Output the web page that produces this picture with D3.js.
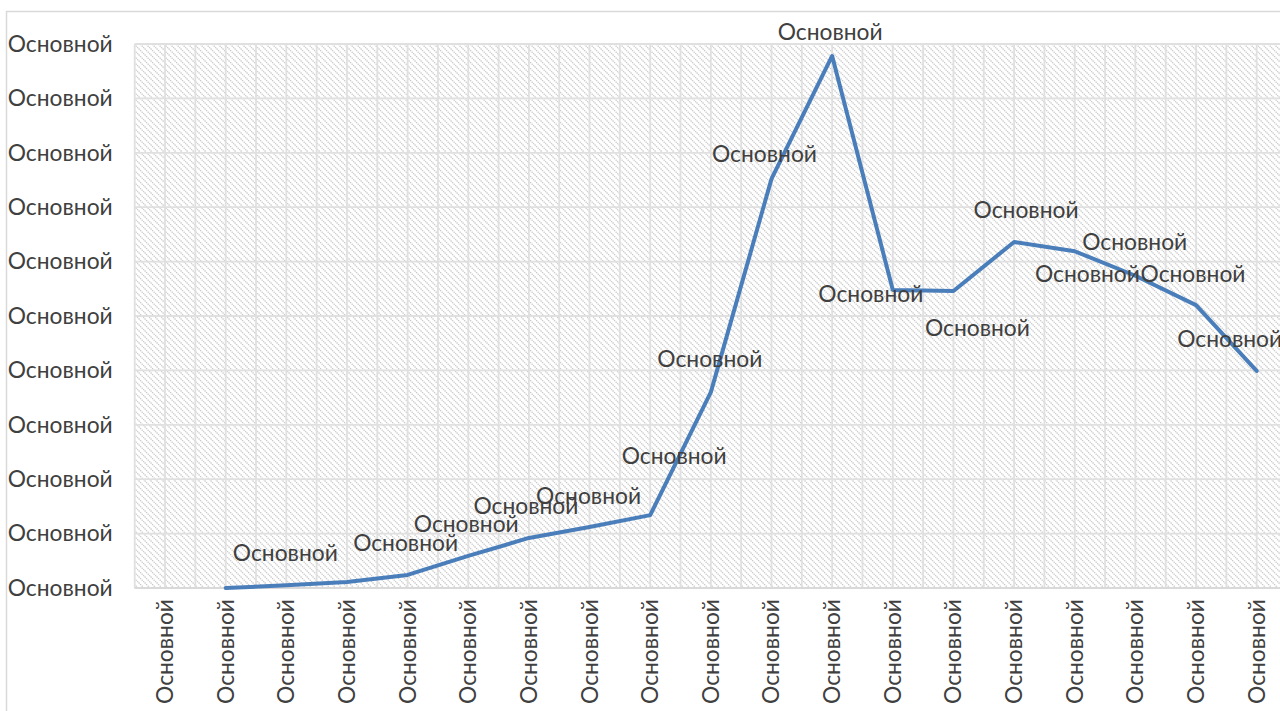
<!DOCTYPE html>
<html>
<head>
<meta charset="utf-8">
<script src="https://cdn.jsdelivr.net/npm/d3@7"></script>
<style>
  html, body { margin: 0; padding: 0; background: #fff; overflow: hidden; }
  svg { display: block; }
  text { font-family: Lato, "Open Sans", sans-serif; fill: #404040; }
</style>
</head>
<body>
<svg id="chart" width="1280" height="711"></svg>
<script>
// ---- data ----
const categories = ["Основной","Основной","Основной","Основной","Основной","Основной","Основной","Основной","Основной","Основной","Основной","Основной","Основной","Основной","Основной","Основной","Основной","Основной","Основной"];
const seriesValues = [null, 0, 0.05, 0.11, 0.24, 0.59, 0.92, 1.12, 1.34, 3.6, 7.52, 9.78, 5.48, 5.46, 6.36, 6.19, 5.74, 5.2, 3.99];
const yTickValues = [0,1,2,3,4,5,6,7,8,9,10];
const yTickLabels = ["Основной","Основной","Основной","Основной","Основной","Основной","Основной","Основной","Основной","Основной","Основной"];
const pointLabels = [null, null, "Основной", null, "Основной", "Основной", "Основной", "Основной", "Основной", "Основной", "Основной", "Основной", "Основной", "Основной", "Основной", "Основной", "Основной", "Основной", "Основной"];

// label nudges (presentation only), pixel offsets of label centre from point
const labelNudge = [null, null, [-1,-32], null, [-2,-32], [-2,-32], [-3,-32], [-1,-31], [24,-59], [-1,-33], [-7,-25], [-2,-24], [-22,4], [24,37], [12,-32], [60,-9], [-48,-2], [-3,-31], [-27,-32]];

const svg = d3.select("#chart");
const plot = { left: 134.7, top: 44, bottom: 588, right: 1287 };
const FS = 22.8;

// chart frame
svg.append("rect").attr("x", 6.5).attr("y", 11.5).attr("width", 1400).attr("height", 800)
  .attr("fill", "#fff").attr("stroke", "#d9d9d9").attr("stroke-width", 1.5);

// hatch pattern
const defs = svg.append("defs");
const pat = defs.append("pattern").attr("id", "hatch").attr("patternUnits", "userSpaceOnUse")
  .attr("width", 6).attr("height", 6);
pat.append("rect").attr("width", 6).attr("height", 6).attr("fill", "#fff");
pat.append("path").attr("d", "M-1,-1 L7,7 M-1,5 L1,7 M5,-1 L7,1")
  .attr("stroke", "#c8c8c8").attr("stroke-width", 1.3).attr("stroke-dasharray", "1.4,0.8");

const x = d3.scaleBand().domain(d3.range(categories.length)).range([plot.left, plot.right]).paddingInner(0).paddingOuter(0);
const y = d3.scaleLinear().domain([0, 10]).range([plot.bottom, plot.top]);
const cx = i => x(i) + x.bandwidth() / 2;

svg.append("rect").attr("x", plot.left).attr("y", plot.top)
  .attr("width", plot.right - plot.left).attr("height", plot.bottom - plot.top)
  .attr("fill", "url(#hatch)");

// vertical gridlines (boundaries and centres)
const vLines = [];
categories.forEach((c, i) => { vLines.push(x(i)); vLines.push(cx(i)); });
vLines.push(plot.right);
svg.append("g").selectAll("line").data(vLines).join("line")
  .attr("x1", d => d).attr("x2", d => d).attr("y1", plot.top).attr("y2", plot.bottom)
  .attr("stroke", "#e0e0e0").attr("stroke-width", 1.8);

// horizontal gridlines
svg.append("g").selectAll("line").data(yTickValues).join("line")
  .attr("x1", plot.left).attr("x2", plot.right).attr("y1", d => y(d)).attr("y2", d => y(d))
  .attr("stroke", "#e0e0e0").attr("stroke-width", 1.8);

// x axis line
svg.append("line").attr("x1", plot.left).attr("x2", plot.right).attr("y1", y(0)).attr("y2", y(0))
  .attr("stroke", "#d9d9d9").attr("stroke-width", 2);

// y axis labels
const yAxis = d3.axisLeft(y).tickValues(yTickValues).tickFormat((d, i) => yTickLabels[i]).tickSize(0).tickPadding(22);
const gy = svg.append("g").attr("transform", `translate(${plot.left},0)`).call(yAxis);
gy.select(".domain").remove();
gy.selectAll("text").attr("font-size", FS).attr("font-family", "Lato, 'Open Sans', sans-serif").attr("fill", "#404040");

// x axis labels (rotated)
svg.append("g").selectAll("text").data(categories).join("text")
  .attr("transform", (d, i) => `translate(${cx(i) + 8},${plot.bottom + 11}) rotate(-90)`)
  .attr("text-anchor", "end").attr("font-size", FS)
  .text(d => d);

// line
const pts = seriesValues.map(v => v);
svg.append("path").datum(pts)
  .attr("d", d3.line().defined(d => d != null).x((d, i) => cx(i)).y(d => y(d)))
  .attr("fill", "none").attr("stroke", "#4a7ebb").attr("stroke-width", 4)
  .attr("stroke-linejoin", "round").attr("stroke-linecap", "round");

// data labels
svg.append("g").selectAll("text").data(seriesValues.map((v, i) => ({ v, i })).filter(d => d.v != null && pointLabels[d.i]))
  .join("text")
  .attr("x", d => cx(d.i) + labelNudge[d.i][0])
  .attr("y", d => y(d.v) + labelNudge[d.i][1])
  .attr("dy", "0.35em")
  .attr("text-anchor", "middle").attr("font-size", FS)
  .text(d => pointLabels[d.i]);
</script>
</body>
</html>
